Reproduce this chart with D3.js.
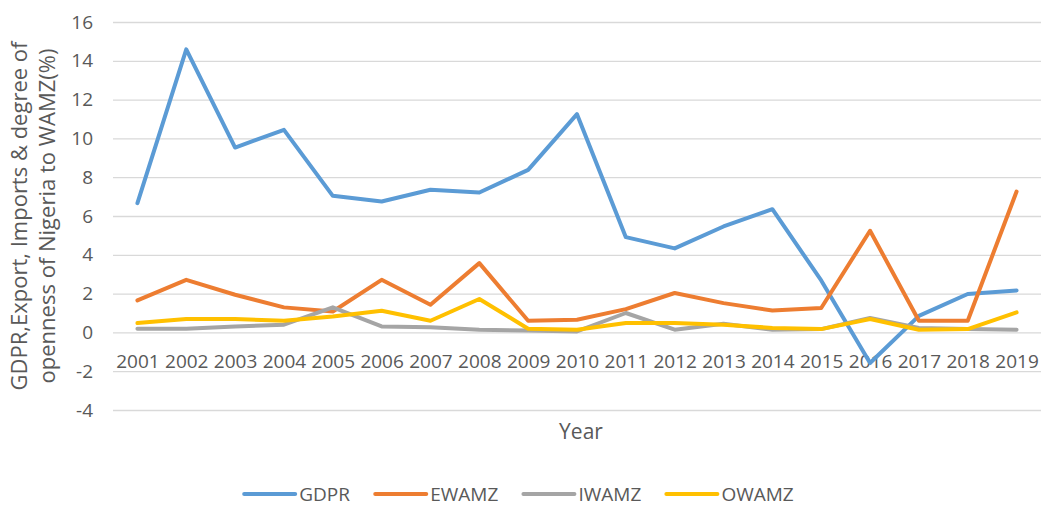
<!DOCTYPE html>
<html>
<head>
<meta charset="utf-8">
<script src="https://cdn.jsdelivr.net/npm/d3@7"></script>
<style>
    body { margin: 0; background: #fff; }
    svg text { font-family: "Open Sans", "Noto Sans", sans-serif; fill: #595959; }
</style>
</head>
<body>
<div id="chart"></div>
<script>
'use strict';

var years  = ['2001', '2002', '2003', '2004', '2005', '2006', '2007', '2008', '2009', '2010',
              '2011', '2012', '2013', '2014', '2015', '2016', '2017', '2018', '2019'];
var gdpr   = [6.66, 14.59, 9.53, 10.44, 7.04, 6.75, 7.35, 7.21, 8.38, 11.25,
              4.91, 4.33, 5.46, 6.35, 2.68, -1.58, 0.85, 1.98, 2.16];
var ewamz  = [1.65, 2.71, 1.94, 1.29, 1.08, 2.71, 1.43, 3.57, 0.60, 0.65,
              1.20, 2.03, 1.51, 1.13, 1.26, 5.24, 0.60, 0.60, 7.26];
var iwamz  = [0.19, 0.19, 0.31, 0.40, 1.29, 0.31, 0.26, 0.14, 0.10, 0.05,
              1.00, 0.14, 0.45, 0.14, 0.17, 0.74, 0.23, 0.17, 0.14];
var owamz  = [0.48, 0.69, 0.69, 0.60, 0.82, 1.12, 0.60, 1.72, 0.19, 0.14,
              0.48, 0.48, 0.40, 0.23, 0.17, 0.69, 0.14, 0.17, 1.03];
var yTicks = [-4, -2, 0, 2, 4, 6, 8, 10, 12, 14, 16];

var series = [
    {name: 'GDPR',  color: '#5B9BD5', values: gdpr},
    {name: 'EWAMZ', color: '#ED7D31', values: ewamz},
    {name: 'IWAMZ', color: '#A5A5A5', values: iwamz},
    {name: 'OWAMZ', color: '#FFC000', values: owamz}
];

var width  = 1051,
    height = 506,
    margin = {top: 22, right: 10, bottom: 96, left: 113},
    plotW  = 1041 - margin.left,
    plotH  = 410 - margin.top;

var svg = d3.select('#chart').append('svg')
    .attr('width', width)
    .attr('height', height);

var x = d3.scalePoint()
    .domain(years)
    .range([0, plotW])
    .padding(0.5);

var y = d3.scaleLinear()
    .domain([-4, 16])
    .range([plotH, 0]);

var vis = svg.append('g')
    .attr('transform', 'translate(' + margin.left + ', ' + margin.top + ')');

// Grid lines (the zero line is drawn the same way).
vis.append('g')
    .attr('class', 'grid')
    .call(d3.axisLeft(y).tickValues(yTicks).tickSize(-plotW).tickFormat(''))
    .call(function (g) {
        g.select('.domain').remove();
        g.selectAll('line').attr('stroke', '#D9D9D9').attr('stroke-width', 1.3);
    });

// Left axis labels (plain hyphen for negatives, like the original).
vis.append('g')
    .attr('class', 'axis')
    .call(d3.axisLeft(y).tickValues(yTicks).tickSize(0).tickPadding(20).tickFormat(String))
    .call(function (g) {
        g.select('.domain').remove();
        g.selectAll('text').style('font-size', '19px').attr('fill', '#595959');
    });

// Category labels sit under the zero line.
vis.append('g')
    .attr('class', 'axis')
    .attr('transform', 'translate(0, ' + y(0) + ')')
    .call(d3.axisBottom(x).tickSize(0).tickPadding(22))
    .call(function (g) {
        g.select('.domain').remove();
        g.selectAll('text').style('font-size', '19px').attr('fill', '#595959');
    });

var line = d3.line()
    .x(function (d, i) { return x(years[i]); })
    .y(function (d) { return y(d); });

vis.selectAll('.series')
    .data(series)
    .enter().append('path')
    .attr('class', 'series')
    .attr('fill', 'none')
    .attr('stroke', function (d) { return d.color; })
    .attr('stroke-width', 4)
    .attr('stroke-linejoin', 'round')
    .attr('stroke-linecap', 'round')
    .attr('d', function (d) { return line(d.values); });

// Axis titles.
svg.append('text')
    .attr('x', 581)
    .attr('y', 439)
    .attr('text-anchor', 'middle')
    .style('font-size', '21px')
    .text('Year');

var yTitle = svg.append('text')
    .attr('transform', 'translate(0, ' + (margin.top + plotH / 2) + ') rotate(-90)')
    .attr('text-anchor', 'middle')
    .style('font-size', '22px');

yTitle.append('tspan').attr('x', 0).attr('y', 27).text('GDPR,Export, Imports & degree of');
yTitle.append('tspan').attr('x', 0).attr('y', 55).text('openness of Nigeria to WAMZ(%)');

// Legend, centred under the plot.
var legend = svg.append('g').attr('class', 'legend');
var items = legend.selectAll('g')
    .data(series)
    .enter().append('g');

items.append('line')
    .attr('x1', 0).attr('x2', 51)
    .attr('y1', 0).attr('y2', 0)
    .attr('stroke', function (d) { return d.color; })
    .attr('stroke-width', 4)
    .attr('stroke-linecap', 'round');

items.append('text')
    .attr('x', 55)
    .attr('y', 0)
    .attr('dy', '0.35em')
    .style('font-size', '19px')
    .text(function (d) { return d.name; });

var offset = 0;
items.each(function () {
    var w = this.getBBox().width;
    d3.select(this).attr('transform', 'translate(' + offset + ', 0)');
    offset += w + 25;
});
offset -= 25;
legend.attr('transform', 'translate(' + (519 - offset / 2) + ', 494)');
</script>
</body>
</html>
